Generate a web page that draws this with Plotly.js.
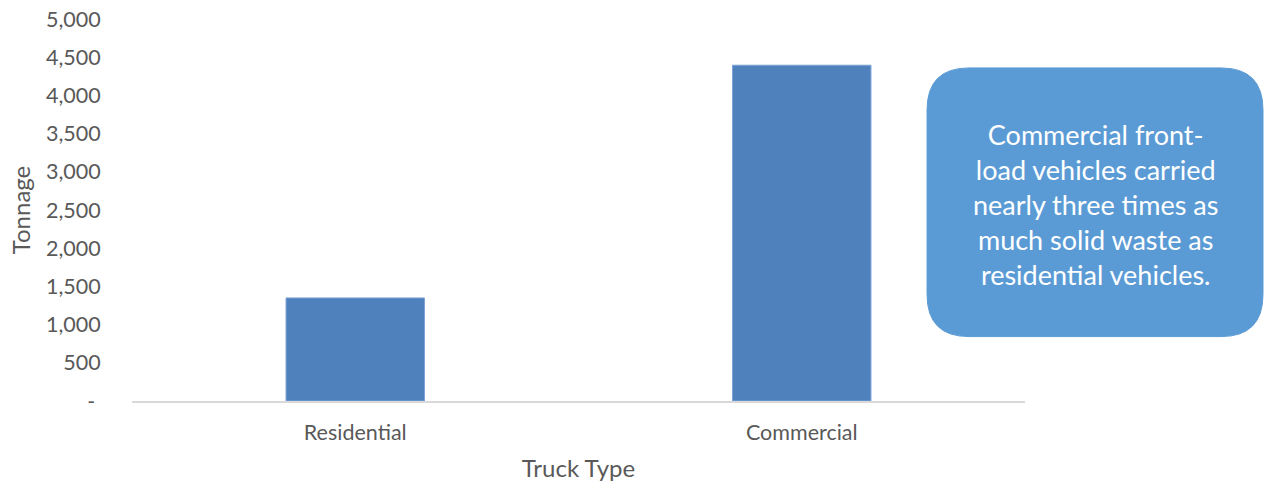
<!DOCTYPE html>
<html>
<head>
<meta charset="utf-8">
<script src="https://cdn.plot.ly/plotly-3.0.1.min.js"></script>
<style>html,body{margin:0;padding:0;background:#fff}#chart{width:1267px;height:482px}</style>
</head>
<body>
<div id="chart"></div>
<script>
const categories = ["Residential", "Commercial"];
const tonnage = [1349, 4395];
const yTickVals = [0, 500, 1000, 1500, 2000, 2500, 3000, 3500, 4000, 4500, 5000];
const yTickText = [" - ", "500", "1,000", "1,500", "2,000", "2,500", "3,000", "3,500", "4,000", "4,500", "5,000"];
const calloutText = "Commercial front-<br>load vehicles carried<br>nearly three times as<br>much solid waste as<br>residential vehicles.";

const FONT = "Lato, 'Open Sans', sans-serif";
const grey = "#595959";

// callout box in paper coords (plot area: x 132..1025 px, y 19..401.5 px)
const bx0 = 0.8903, bx1 = 1.2665, by0 = 0.1686, by1 = 0.8719;
const rx = 0.047, ry = 0.11;
const boxPath = `M ${bx0+rx},${by1} L ${bx1-rx},${by1} Q ${bx1},${by1} ${bx1},${by1-ry} L ${bx1},${by0+ry} Q ${bx1},${by0} ${bx1-rx},${by0} L ${bx0+rx},${by0} Q ${bx0},${by0} ${bx0},${by0+ry} L ${bx0},${by1-ry} Q ${bx0},${by1} ${bx0+rx},${by1} Z`;

const data = [{
  type: "bar",
  x: categories,
  y: tonnage,
  marker: {color: "#4f81bd", line: {color: "#7aa3d6", width: 1}},
  hoverinfo: "x+y"
}];

const layout = {
  width: 1267, height: 482,
  margin: {l: 132, r: 242, t: 19, b: 80.5},
  paper_bgcolor: "#fff", plot_bgcolor: "#fff",
  bargap: 0.69,
  showlegend: false,
  font: {family: FONT, color: grey, size: 21.5},
  xaxis: {
    type: "category",
    showgrid: false, zeroline: false,
    showline: true, linecolor: "#d9d9d9", linewidth: 1.5,
    ticks: "outside", ticklen: 12, tickcolor: "rgba(0,0,0,0)",
    tickfont: {family: FONT, size: 21.5, color: grey},
    title: {text: "Truck Type", font: {family: FONT, size: 24, color: grey}, standoff: 17}
  },
  yaxis: {
    range: [0, 5000],
    tickvals: yTickVals, ticktext: yTickText,
    showgrid: false, zeroline: false, showline: false,
    ticks: "outside", ticklen: 26, tickcolor: "rgba(0,0,0,0)",
    tickfont: {family: FONT, size: 21.5, color: grey},
    title: {text: "Tonnage", font: {family: FONT, size: 24, color: grey}, standoff: 8}
  },
  shapes: [{
    type: "path", xref: "paper", yref: "paper", path: boxPath,
    fillcolor: "#5b9bd5", line: {color: "#5b9bd5", width: 1}, layer: "above"
  }],
  annotations: [{
    xref: "paper", yref: "paper",
    x: (bx0 + bx1) / 2, y: (by0 + by1) / 2 - 0.006,
    xanchor: "center", yanchor: "middle",
    text: calloutText, showarrow: false, align: "center",
    font: {family: FONT, size: 27, color: "#ffffff"}
  }]
};

Plotly.newPlot("chart", data, layout, {displayModeBar: false, staticPlot: true});
</script>
</body>
</html>
